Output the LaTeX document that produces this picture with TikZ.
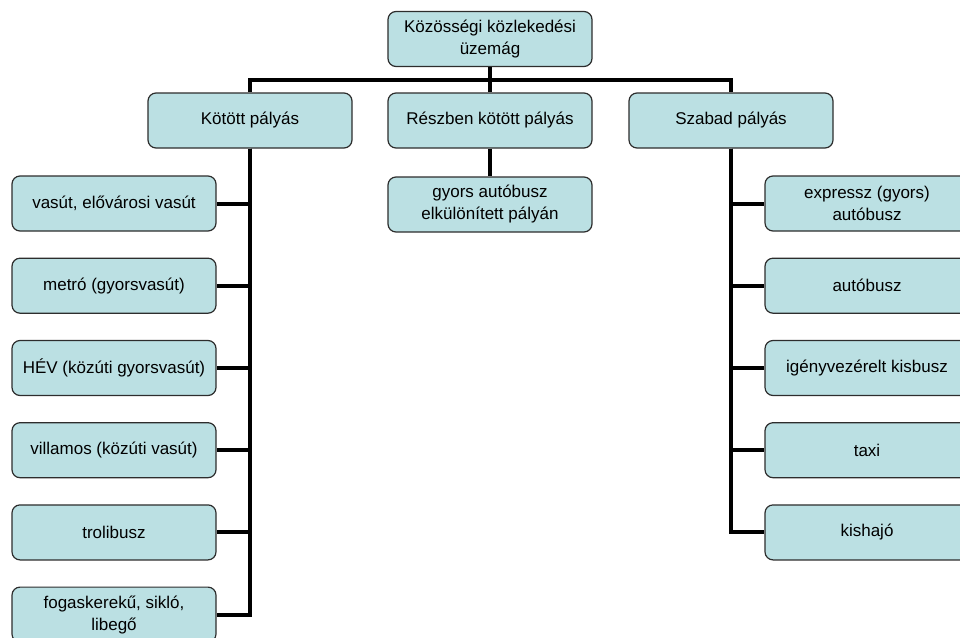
\documentclass[tikz,border=0pt]{standalone}
\usepackage{fontspec}
\setmainfont{Liberation Sans}
\definecolor{boxfill}{RGB}{187,224,227}
\definecolor{boxline}{RGB}{45,45,45}

\begin{document}
\begin{tikzpicture}[x=1pt,y=-1pt,
  box/.style={rectangle,rounded corners=8pt,draw=boxline,line width=1.2pt,fill=boxfill,
    minimum width=204pt,minimum height=55pt,align=center,inner sep=2pt,
    font=\fontsize{17}{22}\selectfont},
  conn/.style={line width=4pt,line join=miter}]
\useasboundingbox (0,0) rectangle (960,637);
\clip (0,0) rectangle (960,637);

\path (490,39) node[box] (top) {Közösségi közlekedési\\üzemág};
\coordinate (bar) at (490,80);

\path (250,120.5) node[box] (kotott) {Kötött pályás};
\path (490,120.5) node[box] (reszben) {Részben kötött pályás};
\path (731,120.5) node[box] (szabad) {Szabad pályás};

\path (490,204.5) node[box] (gyors) {gyors autóbusz\\elkülönített pályán};

\path (114,203.5) node[box] (vasut) {vasút, elővárosi vasút};
\path (114,285.7) node[box] (metro) {metró (gyorsvasút)};
\path (114,368) node[box] (hev) {HÉV (közúti gyorsvasút)};
\path (114,450.2) node[box] (villamos) {villamos (közúti vasút)};
\path (114,532.4) node[box] (troli) {trolibusz};
\path (114,614.6) node[box] (fogas) {fogaskerekű, sikló,\\libegő};

\path (867,203.5) node[box] (expressz) {expressz (gyors)\\autóbusz};
\path (867,285.7) node[box] (busz) {autóbusz};
\path (867,368) node[box] (kisbusz) {igényvezérelt kisbusz};
\path (867,450.2) node[box] (taxi) {taxi};
\path (867,532.4) node[box] (kishajo) {kishajó};

\draw[conn] (top) -- (bar);
\draw[conn] (kotott) |- (bar) -| (szabad);
\draw[conn] (reszben) -- (bar);
\draw[conn] (reszben) -- (gyors);

\foreach \n in {vasut,metro,hev,villamos,troli,fogas}
  \draw[conn] (kotott) |- (\n);
\foreach \n in {expressz,busz,kisbusz,taxi,kishajo}
  \draw[conn] (szabad) |- (\n);
\end{tikzpicture}
\end{document}
